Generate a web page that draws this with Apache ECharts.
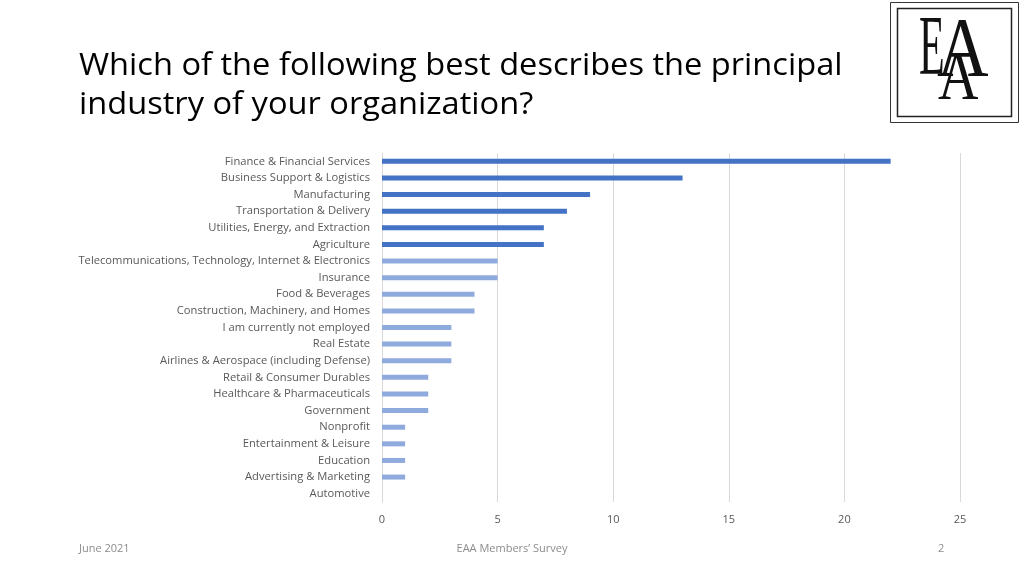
<!DOCTYPE html>
<html>
<head>
<meta charset="utf-8">
<script src="https://cdn.jsdelivr.net/npm/echarts@6/dist/echarts.min.js"></script>
<style>html,body{margin:0;padding:0;background:#fff;}#c{width:1024px;height:576px;}</style>
</head>
<body>
<div id="c"></div>
<script>
const categories = [
  "Finance & Financial Services",
  "Business Support & Logistics",
  "Manufacturing",
  "Transportation & Delivery",
  "Utilities, Energy, and Extraction",
  "Agriculture",
  "Telecommunications, Technology, Internet & Electronics",
  "Insurance",
  "Food & Beverages",
  "Construction, Machinery, and Homes",
  "I am currently not employed",
  "Real Estate",
  "Airlines & Aerospace (including Defense)",
  "Retail & Consumer Durables",
  "Healthcare & Pharmaceuticals",
  "Government",
  "Nonprofit",
  "Entertainment & Leisure",
  "Education",
  "Advertising & Marketing",
  "Automotive"
];
const values = [22, 13, 9, 8, 7, 7, 5, 5, 4, 4, 3, 3, 3, 2, 2, 2, 1, 1, 1, 1, 0];
const xTicks = [0, 5, 10, 15, 20, 25];
const titleLines = ["Which of the following best describes the principal", "industry of your organization?"];
const footerLeft = "June 2021";
const footerCenter = "EAA Members\u2019 Survey";
const footerRight = "2";

const chart = echarts.init(document.getElementById('c'));
const font = "'Open Sans', sans-serif";
const serif = "'Liberation Serif', serif";
chart.setOption({
  animation: false,
  grid: { left: 382, right: 64, top: 153, height: 349, containLabel: false },
  xAxis: {
    type: 'value', min: xTicks[0], max: xTicks[xTicks.length - 1], interval: 5,
    axisLine: { show: false }, axisTick: { show: false },
    splitLine: { lineStyle: { color: '#d9d9d9', width: 1 } },
    axisLabel: { color: '#595959', fontSize: 11, fontFamily: font, margin: 12 }
  },
  yAxis: {
    type: 'category', data: categories, inverse: true,
    axisLine: { show: true, lineStyle: { color: '#d9d9d9' } },
    axisTick: { show: false },
    axisLabel: { color: '#595959', fontSize: 11.2, fontFamily: font, margin: 12 }
  },
  series: [{
    type: 'bar', barWidth: 5,
    data: values.map((v, i) => ({ value: v, itemStyle: { color: i < 6 ? '#4472c4' : '#8faadc' } }))
  }],
  graphic: [
    { type: 'text', x: 79, y: 51, scaleX: 1.052, style: { text: titleLines[0], font: "31px " + font, fill: '#000' } },
    { type: 'text', x: 79, y: 90, scaleX: 1.052, style: { text: titleLines[1], font: "31px " + font, fill: '#000' } },
    { type: 'text', left: 79, top: 543, style: { text: footerLeft, font: "11px " + font, fill: '#8c8c8c' } },
    { type: 'text', left: 'center', top: 543, style: { text: footerCenter, font: "11px " + font, fill: '#8c8c8c' } },
    { type: 'text', left: 938, top: 543, style: { text: footerRight, font: "11px " + font, fill: '#8c8c8c' } },
    { type: 'rect', shape: { x: 890.5, y: 2.5, width: 128, height: 120 }, style: { fill: '#fff', stroke: '#333', lineWidth: 1 } },
    { type: 'rect', shape: { x: 897.5, y: 8.5, width: 114, height: 108 }, style: { fill: 'none', stroke: '#222', lineWidth: 1.5 } },
    { type: 'text', x: 919, y: 10, scaleX: 0.5, style: { text: 'E', font: "84px " + serif, fill: '#111' } },
    { type: 'text', x: 937, y: 12, scaleX: 0.85, style: { text: 'A', font: "84px " + serif, fill: '#111' } },
    { type: 'text', x: 938, y: 46, scaleX: 0.8, style: { text: 'A', font: "70px " + serif, fill: '#111' } }
  ]
});
</script>
</body>
</html>
